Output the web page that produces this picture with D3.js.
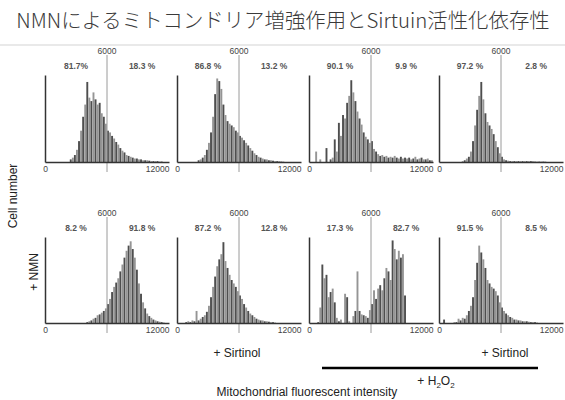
<!DOCTYPE html>
<meta charset="utf-8">
<style>
body {
  margin: 0;
  background: #fff;
}
text {
  font-family: "Liberation Sans", Arial, sans-serif;
}
.title {
  font-family: "Noto Sans CJK JP", sans-serif;
  font-weight: 300;
  font-size: 20.4px;
  fill: #3a3a3a;
}
.tick-label {
  font-size: 8.5px;
  fill: #444;
}
.pct {
  font-size: 8.5px;
  font-weight: bold;
  fill: #555;
}
.note {
  font-size: 12px;
  fill: #222;
}
</style>
<body>
<script src="https://cdn.jsdelivr.net/npm/d3@7"></script>
<script>

var width = 565,
    height = 400;

// histogram counts, bins of 200 units from 0 to 12000 (0-100 = axis height)
var ctrl = [0,0,0,0,0,0,0,0,0,0, 0,0,3,5,8,14,24,36,52,66,
            92,74,70,80,72,66,68,56,52,44, 36,34,30,27,23,20,16,13,11,8,
            7,6,5,4,4,3,3,2,2,2, 1.5,1,1,1,1,0.5,0.5,0,0,0];
var sirtinol = [0,0,0,0,0,0,0,0,0,0, 2,3,5,8,14,22,34,52,78,96,
                93,84,66,54,47,44,42,40,36,34, 30,28,25,22,19,16,13,10,8,6,
                5,4,3,3,2,2,1.5,1,1,1, 0.5,0.5,0,0,0,0,0,0,0,0];
var h2o2 = [0,0,0,12,0,3,0,0,16,0, 3,5,26,12,45,30,54,50,68,76,
            94,80,70,58,50,43,34,29,26,22, 24,15,12,9,7,8,6,7,5,6,
            5,7,5,4,6,4,5,4,5,3, 4,6,3,4,5,3,3,4,2,2];
var h2o2Sirtinol = [0,0,0,0,0,0,0,0,0,0, 0,1,2,4,6,12,24,42,60,76,
                    92,72,56,46,42,38,32,24,17,10, 6,3,2,1.5,1,1,1,1,1,1,
                    1,1,1,1,1,1,0.5,0.5,0.5,0.5, 0.5,0.5,0,0,0,0,0,0,0,0];
var nmn = [0,0,0,0,0,0,0,0,0,0, 0,0,0,0,0,0,0,0,0,0,
           1,2,3,5,6,9,10,12,14,17, 22,28,36,42,47,52,60,68,76,84,
           90,95,86,76,62,46,34,24,17,11, 8,6,4,3,2,1.5,1,0.5,0,0];
var nmnSirtinol = [0,0,0,0,1,2,1,3,2,14, 3,5,7,9,13,20,30,42,54,66,
                   74,80,94,72,64,56,50,46,42,37, 32,28,22,18,14,11,9,7,5,4,
                   3,3,2,2,1.5,1,1,0.5,0,0, 0,0,0,0,0,0,0,0,0,0];
var nmnH2o2 = [0,0,0,0,1,18,68,52,56,30, 36,40,24,6,2,4,0,34,30,2,
               0,8,14,60,14,10,9,8,6,15, 22,38,28,40,44,38,52,64,60,50,
               96,86,74,84,76,80,32,0,0,0, 0,0,0,0,0,0,0,0,0,0];
var nmnH2o2Sirtinol = [0,0,4,0,0,0,0,1,1,5, 3,6,5,9,14,20,30,50,70,90,
                       82,74,64,50,46,42,40,37,32,24, 18,14,11,9,7,6,4,4,3,3,
                       2,2,2,1.5,1,1,1,0.5,0,0, 0,0,0,0,0,0,0,0,0,0];

var series = [ctrl, sirtinol, h2o2, h2o2Sirtinol, nmn, nmnSirtinol, nmnH2o2, nmnH2o2Sirtinol];
var leftPct = ["81.7%", "86.8 %", "90.1 %", "97.2 %", "8.2 %", "87.2 %", "17.3 %", "91.5 %"];
var rightPct = ["18.3 %", "13.2 %", "9.9 %", "2.8 %", "91.8 %", "12.8 %", "82.7 %", "8.5 %"];
var binSize = 200,
    xMax = 12000,
    gate = 6000;

// layout
var cols = [45, 177, 309, 439],
    panelW = 124,
    rows = [{top: 75, base: 162}, {top: 237, base: 323}];

var svg = d3.select("body").append("svg")
    .attr("width", width)
    .attr("height", height);

svg.append("text")
    .attr("class", "title")
    .attr("x", 283)
    .attr("y", 28)
    .attr("text-anchor", "middle")
    .text("NMNによるミトコンドリア増強作用とSirtuin活性化依存性");

svg.append("line")
    .attr("x1", 0).attr("x2", width)
    .attr("y1", 45).attr("y2", 45)
    .attr("stroke", "#e2e2e2")
    .attr("stroke-width", 1.5);

function drawPanel(values, i) {
  var row = rows[Math.floor(i / 4)],
      x0 = cols[i % 4];

  var x = d3.scaleLinear().domain([0, xMax]).range([x0, x0 + panelW]);
  var y = d3.scaleLinear().domain([0, 100]).range([row.base, row.top]);

  var g = svg.append("g");

  var bw = x(binSize) - x(0);
  g.selectAll("rect")
      .data(values)
    .enter().append("rect")
      .attr("x", function(d, j) { return x(j * binSize); })
      .attr("width", bw * 0.92)
      .attr("y", function(d) { return y(d); })
      .attr("height", function(d) { return row.base - y(d); })
      .attr("fill", function(d, j) { return j % 2 ? "#959595" : "#4e4e4e"; });

  // gate line
  g.append("line")
      .attr("x1", x(gate)).attr("x2", x(gate))
      .attr("y1", row.top - 20).attr("y2", row.base + 10)
      .attr("stroke", "#9a9a9a")
      .attr("stroke-width", 1);

  g.append("text")
      .attr("class", "tick-label")
      .attr("x", x(gate))
      .attr("y", row.top - 21.5)
      .attr("text-anchor", "middle")
      .text(gate);

  g.append("text")
      .attr("class", "pct")
      .attr("x", x(3000))
      .attr("y", row.top - 6)
      .attr("text-anchor", "middle")
      .text(leftPct[i]);

  g.append("text")
      .attr("class", "pct")
      .attr("x", x(9400))
      .attr("y", row.top - 6)
      .attr("text-anchor", "middle")
      .text(rightPct[i]);

  // axes
  var xAxis = g.append("g")
      .attr("transform", "translate(0," + row.base + ")")
      .call(d3.axisBottom(x).tickValues([0, xMax]).tickSize(0).tickPadding(4).tickFormat(d3.format("d")));
  xAxis.select(".domain").attr("stroke", "#333").attr("stroke-width", 1.5);
  xAxis.selectAll("text")
      .attr("class", "tick-label")
      .attr("font-family", null)
      .attr("font-size", null)
      .attr("fill", null)
      .attr("text-anchor", function(d) { return d == xMax ? "end" : "middle"; });

  var yAxis = g.append("g")
      .attr("transform", "translate(" + x0 + ",0)")
      .call(d3.axisLeft(y).tickValues([]).tickSizeOuter(0));
  yAxis.select(".domain").attr("stroke", "#333").attr("stroke-width", 1.5);
}

series.forEach(drawPanel);

// side labels
svg.append("text")
    .attr("class", "note")
    .attr("transform", "translate(17,196) rotate(-90)")
    .attr("text-anchor", "middle")
    .text("Cell number");

svg.append("text")
    .attr("class", "note")
    .attr("transform", "translate(38,272) rotate(-90)")
    .attr("text-anchor", "middle")
    .text("+ NMN");

// treatment labels
svg.append("text")
    .attr("class", "note")
    .attr("x", 237).attr("y", 357)
    .attr("text-anchor", "middle")
    .text("+ Sirtinol");

svg.append("text")
    .attr("class", "note")
    .attr("x", 505).attr("y", 357)
    .attr("text-anchor", "middle")
    .text("+ Sirtinol");

svg.append("line")
    .attr("x1", 322).attr("x2", 538)
    .attr("y1", 368).attr("y2", 368)
    .attr("stroke", "#000")
    .attr("stroke-width", 2.5);

var h = svg.append("text")
    .attr("class", "note")
    .attr("x", 436).attr("y", 385)
    .attr("text-anchor", "middle");
h.append("tspan").text("+ H");
h.append("tspan").attr("font-size", "8px").attr("dy", 3).text("2");
h.append("tspan").attr("dy", -3).text("O");
h.append("tspan").attr("font-size", "8px").attr("dy", 3).text("2");

svg.append("text")
    .attr("class", "note")
    .attr("x", 307).attr("y", 396)
    .attr("text-anchor", "middle")
    .text("Mitochondrial fluorescent intensity");

</script>
